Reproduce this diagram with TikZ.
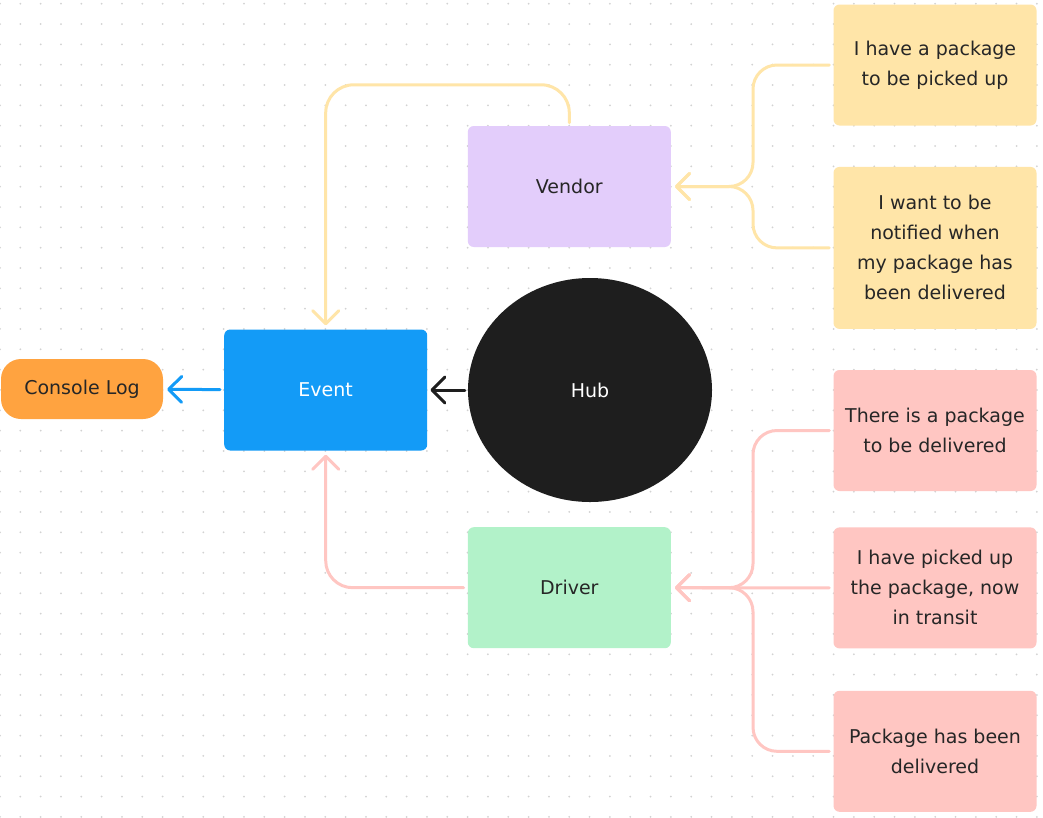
\documentclass[tikz,border=0pt]{standalone}
\usepackage{fontspec}
\setmainfont{DejaVu Sans}
\usetikzlibrary{arrows.meta,positioning,shapes.geometric}
\definecolor{PkgInk}{HTML}{262626}
\definecolor{PkgDot}{HTML}{D2D2D2}
\definecolor{PkgOrange}{HTML}{FFA340}
\definecolor{PkgBlue}{HTML}{139BF7}
\definecolor{PkgBlack}{HTML}{1E1E1E}
\definecolor{PkgViolet}{HTML}{E3CDFB}
\definecolor{PkgGreen}{HTML}{B2F2C9}
\definecolor{PkgYellow}{HTML}{FFE5A8}
\definecolor{PkgPink}{HTML}{FFC6C2}
\tikzset{
  box/.style={rounded corners=6pt, align=center, inner sep=0pt,
              minimum width=203pt, minimum height=121pt, text=PkgInk,
              font=\fontsize{19}{30}\selectfont},
  actor/.style={box, fill=#1},
  note/.style={box, fill=#1},
  hubnode/.style={ellipse, fill=PkgBlack, text=white, inner sep=0pt,
                  minimum width=244pt, minimum height=224pt,
                  font=\fontsize{19}{30}\selectfont},
  link/.style={line width=3pt, line cap=round, draw=#1,
               -{Straight Barb[length=13pt,width=26pt,line width=3pt,round]},
               shorten <=4pt, shorten >=4pt}
}
\begin{document}
\begin{tikzpicture}[x=1pt, y=-1pt]
  \useasboundingbox (0,0) rectangle (1043,817);
  \fill[white] (0,0) rectangle (1043,817);
  % dot grid
  \foreach \i in {0,...,51}
    \foreach \j in {0,...,40}
      \fill[PkgDot] (20.33*\i, 3.7+20.33*\j) circle (1pt);

  \node[box, fill=PkgOrange, minimum width=162pt, minimum height=60pt,
        rounded corners=20pt] (console) at (82,389) {Console Log};
  \node[actor=PkgBlue, text=white] (event) at (325.7,390) {Event};
  \node[hubnode] (hub) at (590,390) {Hub};
  \node[actor=PkgViolet] (vendor) at (569.3,186.5) {Vendor};
  \node[actor=PkgGreen] (driver) at (569.3,587.7) {Driver};

  \node[note=PkgYellow] (pickup) at (935,65) {I have a package\\to be picked up};
  \node[note=PkgYellow, minimum height=162pt, below=41pt of pickup] (notify)
    {I want to be\\notified when\\my package has\\been delivered};
  \node[note=PkgPink] (waiting) at (935,430.5) {There is a package\\to be delivered};
  \node[note=PkgPink, below=36pt of waiting] (transit)
    {I have picked up\\the package, now\\in transit};
  \node[note=PkgPink, below=42pt of transit] (delivered)
    {Package has been\\delivered};

  \draw[link=PkgBlack, shorten <=3pt, shorten >=3pt] (hub) -- (event);
  \draw[link=PkgBlue] (event) -- (console);
  \draw[link=PkgYellow, rounded corners=28pt, shorten <=3pt]
    (vendor.north) -- ++(0,-41) -| (event.north);
  \draw[link=PkgPink, rounded corners=27pt] (driver.west) -| (event.south);

  \draw[link=PkgYellow, rounded corners=24pt]
    (pickup.west) -| ([xshift=82pt]vendor.east) -- (vendor.east);
  \draw[link=PkgYellow, rounded corners=24pt]
    (notify.west) -| ([xshift=82pt]vendor.east) -- (vendor.east);
  \draw[link=PkgPink, rounded corners=24pt]
    (waiting.west) -| ([xshift=82pt]driver.east) -- (driver.east);
  \draw[link=PkgPink] (transit.west) -- (driver.east);
  \draw[link=PkgPink, rounded corners=24pt]
    (delivered.west) -| ([xshift=82pt]driver.east) -- (driver.east);
\end{tikzpicture}
\end{document}
